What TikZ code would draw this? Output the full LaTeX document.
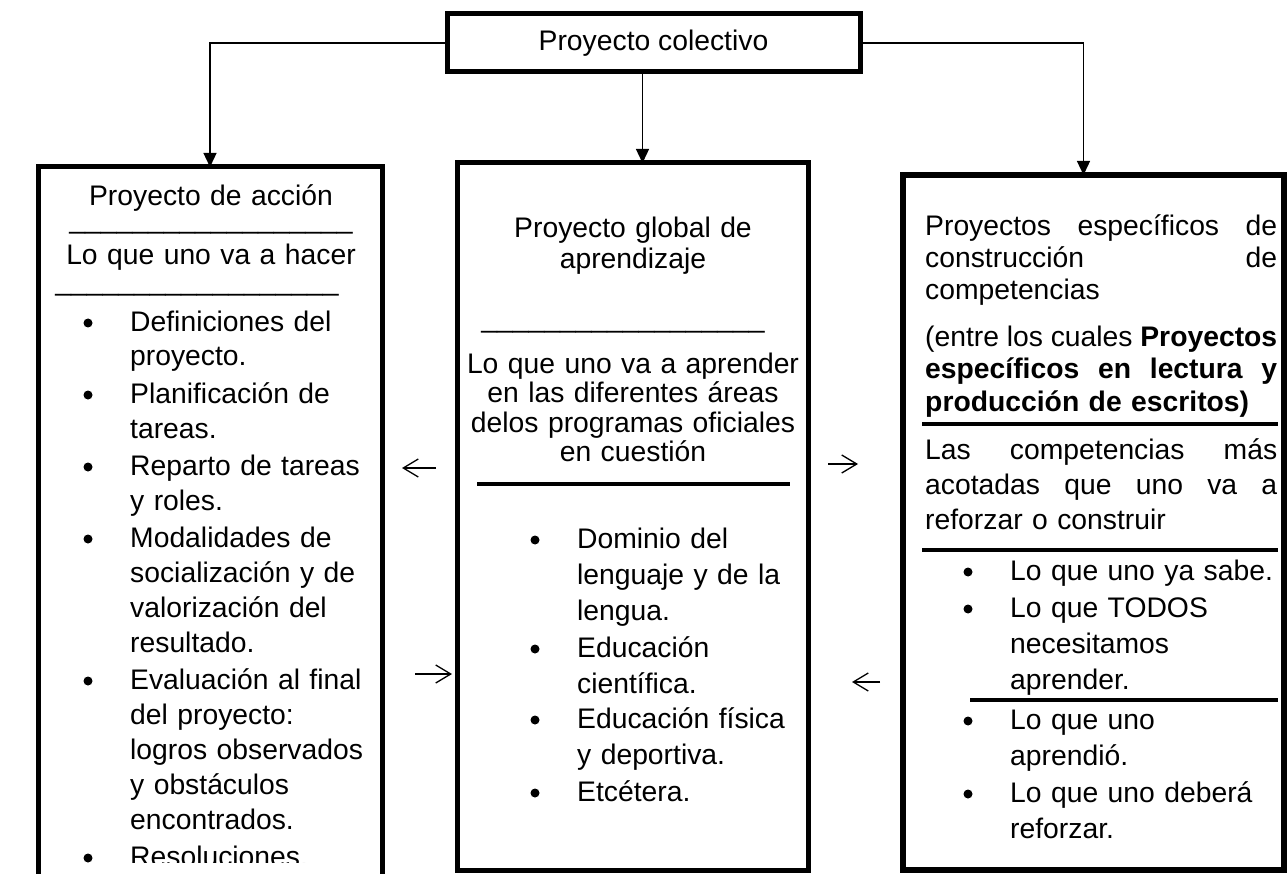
\documentclass[tikz,border=0pt]{standalone}
\usepackage{fontspec}
\setmainfont{Liberation Sans}
\usetikzlibrary{arrows.meta}
\newcommand\cuerpo{\fontsize{28.3}{35}\selectfont}
\newcommand\raya{\_\_\_\_\_\_\_\_\_\_\_\_\_\_\_\_\_\_}
\newcommand\punto[2]{\fill (#1,#2) circle (4.5pt);}
\hyphenpenalty=10000

\begin{document}
\begin{tikzpicture}[x=1pt, y=-1pt, font=\cuerpo,
		caja/.style={draw, line width=5pt, inner sep=0pt, outer sep=0pt},
		flecha/.style={line width=1.3pt, -{Triangle[width=13pt,length=14pt]}},
		suelta/.style={line width=1.3pt, -{Straight Barb[length=15pt,width=18pt]}},
		regla/.style={line width=3.5pt},
		centrado/.style={inner sep=0pt, anchor=base, text width=340pt, align=center},
		vineta/.style={inner sep=0pt, anchor=base west, text width=300pt, align=left, font=\fontsize{28.3}{36}\selectfont},
		parrafo/.style={inner sep=0pt, anchor=base west, text width=352pt}]
		%%%%% START %%%%%
		\useasboundingbox (0,0) rectangle (1287,874);
		
		\node[caja, minimum width=413pt, minimum height=58pt] (colectivo) at (653.5,43) {Proyecto colectivo};
		
		\node[caja, anchor=north west, minimum width=344pt, minimum height=740pt] (accion) at (38,167) {};
		\node[caja, anchor=north west, minimum width=351pt, minimum height=707pt] (global) at (457,163) {};
		\node[caja, line width=6.5pt, anchor=north west, minimum width=381pt, minimum height=695pt] (especificos) at (903,175) {};
		
		\draw[flecha] (colectivo.west) -| (accion.north);
		\draw[flecha] ([xshift=-11pt]colectivo.south) -- ([xshift=-11pt]colectivo.south |- global.north);
		\draw[flecha] (colectivo.east) -| ([xshift=-10pt]especificos.north);
		
		% proyecto de accion
		\begin{scope}
			\clip (40,170) rectangle (380,862);
			\node[centrado] (accion-titulo) at (211,206) {Proyecto de acción};
			\node[centrado] (accion-raya1) at (211,229) {\raya};
			\node[centrado] (accion-lema) at (211,265) {Lo que uno va a hacer};
			\node[centrado] (accion-raya2) at (197,291) {\raya};
			\punto{88}{323} \node[vineta, font=\cuerpo] (accion-1) at (130,331) {Definiciones del\\proyecto.};
			\punto{88}{395} \node[vineta, font=\cuerpo] (accion-2) at (130,403) {Planificación de\\tareas.};
			\punto{88}{467} \node[vineta, font=\cuerpo] (accion-3) at (130,475) {Reparto de tareas\\y roles.};
			\punto{88}{539} \node[vineta, font=\cuerpo] (accion-4) at (130,547) {Modalidades de\\socialización y de\\valorización del\\resultado.};
			\punto{88}{681} \node[vineta, font=\cuerpo] (accion-5) at (130,689) {Evaluación al final\\del proyecto:\\logros observados\\y obstáculos\\encontrados.};
			\punto{88}{858} \node[vineta, font=\cuerpo] (accion-6) at (130,866) {Resoluciones.};
		\end{scope}
		
		% proyecto global
		\node[centrado, font=\fontsize{28.3}{31}\selectfont] (global-titulo) at (633,238) {Proyecto global de\\aprendizaje};
		\node[centrado] (global-raya) at (623,327) {\raya};
		\node[centrado, font=\fontsize{28.3}{29.5}\selectfont] (global-lema) at (633,373) {Lo que uno va a aprender\\en las diferentes áreas\\delos programas oficiales\\en cuestión};
		\draw[regla] (477,484) -- (790,484);
		\punto{535}{540} \node[vineta] (global-1) at (577,548) {Dominio del\\lenguaje y de la\\lengua.};
		\punto{535}{649} \node[vineta] (global-2) at (577,657) {Educación\\científica.};
		\punto{535}{720} \node[vineta] (global-3) at (577,728) {Educación física\\y deportiva.};
		\punto{535}{793} \node[vineta] (global-4) at (577,801) {Etcétera.};
		
		% proyectos especificos
		\node[parrafo, font=\fontsize{28.3}{32}\selectfont] (especificos-titulo) at (925,236) {Proyectos\hfill específicos\hfill de\\construcción\hfill de\\competencias};
		\node[parrafo, font=\fontsize{28.3}{32}\selectfont] (especificos-nota) at (925,347) {(entre\hfill los\hfill cuales\hfill \textbf{Proyectos}\\\textbf{específicos\hfill en\hfill lectura\hfill y}\\\textbf{producción de escritos)}};
		\draw[regla] (922,424) -- (1278,424);
		\node[parrafo] (especificos-lema) at (925,459) {Las\hfill competencias\hfill más\\acotadas\hfill que\hfill uno\hfill va\hfill a\\reforzar o construir};
		\draw[regla] (922,550) -- (1278,550);
		\punto{968}{572} \node[vineta] (especificos-1) at (1010,580) {Lo que uno ya sabe.};
		\punto{968}{609} \node[vineta] (especificos-2) at (1010,617) {Lo que TODOS\\necesitamos\\aprender.};
		\draw[regla] (970,700) -- (1278,700);
		\punto{968}{721} \node[vineta] (especificos-3) at (1010,729) {Lo que uno\\aprendió.};
		\punto{968}{794} \node[vineta] (especificos-4) at (1010,802) {Lo que uno deberá\\reforzar.};
		
		% flechas sueltas
		\coordinate (izq-a-cola) at (436,468);
		\coordinate (izq-a-punta) at (402,468);
		\coordinate (der-a-cola) at (828,464);
		\coordinate (der-a-punta) at (858,464);
		\coordinate (der-b-cola) at (415,674);
		\coordinate (der-b-punta) at (452,674);
		\coordinate (izq-b-cola) at (880,682);
		\coordinate (izq-b-punta) at (852,682);
		\draw[suelta] (izq-a-cola) -- (izq-a-punta);
		\draw[suelta] (der-a-cola) -- (der-a-punta);
		\draw[suelta] (der-b-cola) -- (der-b-punta);
		\draw[suelta] (izq-b-cola) -- (izq-b-punta);
		
		%%%%% END %%%%%
\end{tikzpicture}
\end{document}
